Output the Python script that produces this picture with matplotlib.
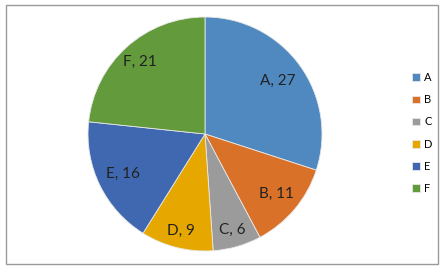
import matplotlib
matplotlib.use("Agg")
import numpy as np
import matplotlib.pyplot as plt
from matplotlib.patches import Rectangle

categories = ["A", "B", "C", "D", "E", "F"]
values = [27, 11, 6, 9, 16, 21]
colors = ["#4F89C0", "#DA7129", "#9B9B9B", "#E6A800", "#3F68B1", "#629A3C"]
label_dist = [0.77, 0.80, 0.855, 0.855, 0.78, 0.83]

W, H = 444, 268
fig = plt.figure(figsize=(W / 100, H / 100), dpi=100)
fig.patch.set_facecolor("white")

cx, cy, r = 205, 134, 117
ax = fig.add_axes([(cx - r) / W, (H - cy - r) / H, 2 * r / W, 2 * r / H])
wedges, _ = ax.pie(values, colors=colors, startangle=90, counterclock=False,
                   wedgeprops=dict(edgecolor="#e8e8e8", linewidth=0.6))
for w, c, v, d in zip(wedges, categories, values, label_dist):
    ang = np.deg2rad((w.theta1 + w.theta2) / 2)
    ax.text(d * np.cos(ang), d * np.sin(ang), f"{c}, {v}", ha="center", va="center",
            fontsize=11, family="Lato", color="#222222")
ax.set_aspect("equal")
ax.set_xlim(-1, 1)
ax.set_ylim(-1, 1)

fig.legend(wedges, categories, loc="center left",
           bbox_to_anchor=(402 / W, 1 - 133 / H), bbox_transform=fig.transFigure,
           frameon=False, handlelength=0.7, handleheight=0.7, handletextpad=0.4,
           labelspacing=1.0, prop=dict(family="Lato", size=8))

fig.add_artist(Rectangle((6 / W, 1 - 263.5 / H), 432 / W, 259 / H, transform=fig.transFigure,
                         fill=False, edgecolor="#9a9a9a", linewidth=1))

fig.savefig("out.png", dpi=100)
